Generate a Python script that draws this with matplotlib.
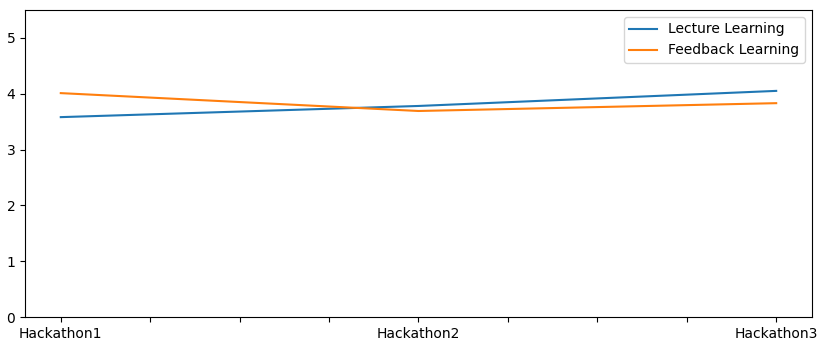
import matplotlib
matplotlib.use("Agg")
import matplotlib.pyplot as plt
import numpy as np

hackathons = ["Hackathon1", "Hackathon2", "Hackathon3"]
lecture_learning = [3.58, 3.78, 4.05]
feedback_learning = [4.01, 3.69, 3.83]

fig = plt.figure(figsize=(8.2, 3.42), dpi=100)
ax = fig.add_axes([0.0305, 0.073, 0.9597, 0.898])

x = np.arange(len(hackathons))
ax.plot(x, lecture_learning, color="#1f77b4", lw=1.5, label="Lecture Learning")
ax.plot(x, feedback_learning, color="#ff7f0e", lw=1.5, label="Feedback Learning")

# pandas-style ticks: every quarter, labelled only at the categories
ticks = np.arange(0, len(hackathons) - 1 + 0.01, 0.25)
labels = [hackathons[int(t)] if float(t).is_integer() else "" for t in ticks]
ax.set_xticks(ticks)
ax.set_xticklabels(labels)
ax.set_xlim(-0.1, 2.1)
ax.set_ylim(0, 5.5)
ax.set_yticks(range(6))
ax.legend(loc="upper right")

fig.savefig("out.png", dpi=100)
